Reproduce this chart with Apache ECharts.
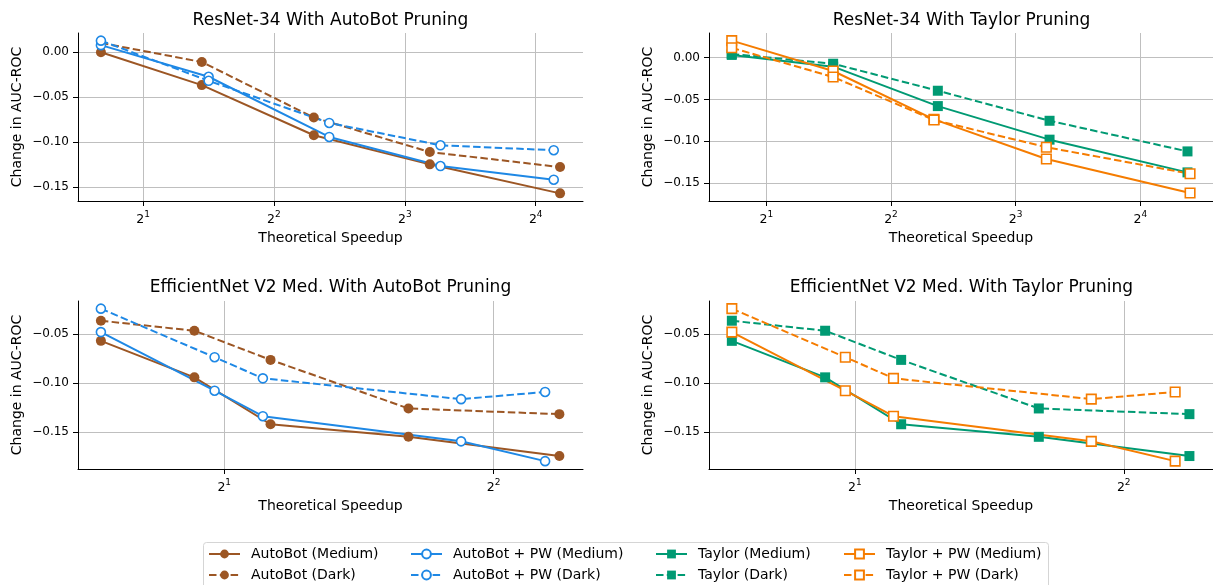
<!DOCTYPE html>
<html>
<head>
<meta charset="utf-8">
<script src="https://cdn.jsdelivr.net/npm/echarts@6/dist/echarts.min.js"></script>
<style>html,body{margin:0;padding:0;background:#fff}#c{width:1213px;height:585px}</style>
</head>
<body>
<div id="c"></div>
<script>
// ---------- data ----------
const chartTitles = [
  'ResNet-34 With AutoBot Pruning',
  'ResNet-34 With Taylor Pruning',
  'EfficientNet V2 Med. With AutoBot Pruning',
  'EfficientNet V2 Med. With Taylor Pruning'
];
const seriesNames = [
  'AutoBot (Medium)', 'AutoBot (Dark)',
  'AutoBot + PW (Medium)', 'AutoBot + PW (Dark)',
  'Taylor (Medium)', 'Taylor (Dark)',
  'Taylor + PW (Medium)', 'Taylor + PW (Dark)'
];
const xAxisName = 'Theoretical Speedup';
const yAxisName = 'Change in AUC-ROC';

// ResNet-34, AutoBot pruning
const resAutoBotSpeedup   = [1.60, 2.73, 4.94, 9.13, 18.2];
const resAutoBotMedium    = [0.000, -0.0365, -0.0923, -0.1247, -0.157];
const resAutoBotDark      = [0.0105, -0.0108, -0.0726, -0.111, -0.1277];
const resAutoBotPWSpeedup = [1.60, 2.83, 5.36, 9.66, 17.6];
const resAutoBotPWMedium  = [0.008, -0.0272, -0.0942, -0.1266, -0.1418];
const resAutoBotPWDark    = [0.013, -0.0317, -0.0786, -0.1035, -0.109];

// ResNet-34, Taylor pruning
const resTaylorSpeedup    = [1.65, 2.90, 5.19, 9.66, 20.8];
const resTaylorMedium     = [0.003, -0.011, -0.058, -0.098, -0.137];
const resTaylorDark       = [0.004, -0.0075, -0.0397, -0.0755, -0.112];
const resTaylorPWSpeedup  = [1.65, 2.90, 5.08, 9.49, 21.1];
const resTaylorPWMedium   = [0.020, -0.0162, -0.0738, -0.121, -0.1615];
const resTaylorPWDark     = [0.0115, -0.0234, -0.0746, -0.107, -0.1386];

// EfficientNet V2 Med., AutoBot pruning
const effAutoBotSpeedup   = [1.456, 1.852, 2.253, 3.213, 4.738];
const effAutoBotMedium    = [-0.0572, -0.0944, -0.1422, -0.155, -0.1746];
const effAutoBotDark      = [-0.0367, -0.0469, -0.0766, -0.1261, -0.1319];
const effAutoBotPWSpeedup = [1.456, 1.951, 2.209, 3.679, 4.567];
const effAutoBotPWMedium  = [-0.0483, -0.108, -0.134, -0.1596, -0.1798];
const effAutoBotPWDark    = [-0.0244, -0.0739, -0.0954, -0.1166, -0.1093];

// EfficientNet V2 Med., Taylor pruning
const effTaylorSpeedup    = [1.456, 1.852, 2.253, 3.213, 4.738];
const effTaylorMedium     = [-0.0572, -0.0944, -0.1422, -0.155, -0.1746];
const effTaylorDark       = [-0.0367, -0.0469, -0.0766, -0.1261, -0.1319];
const effTaylorPWSpeedup  = [1.456, 1.951, 2.209, 3.679, 4.567];
const effTaylorPWMedium   = [-0.0483, -0.108, -0.134, -0.1596, -0.1798];
const effTaylorPWDark     = [-0.0244, -0.0739, -0.0954, -0.1166, -0.1093];

// tick values
const xTicksResNet = [2, 4, 8, 16];
const xTicksEff    = [2, 4];
const yTicksResNet = [-0.15, -0.10, -0.05, 0.00];
const yTicksEff    = [-0.15, -0.10, -0.05];

// ---------- styling / layout ----------
const FONT = 'DejaVu Sans';
const COL = { ab: '#9c5624', pw: '#1e88e5', t: '#009a73', tpw: '#f57c00' };
const DASH = [7.5, 3.3];

const grids = [
  { left: 78,  top: 33,  width: 505, height: 168 },
  { left: 709, top: 33,  width: 505, height: 168 },
  { left: 78,  top: 301, width: 505, height: 168 },
  { left: 709, top: 301, width: 505, height: 168 }
];
const xLimits = [[1.417, 20.55], [1.454, 23.97], [1.3727, 5.035], [1.3727, 5.035]];
const yLimits = [[-0.1655, 0.0215], [-0.1711, 0.0291], [-0.1878, -0.0166], [-0.1878, -0.0166]];
const xTicks = [xTicksResNet, xTicksResNet, xTicksEff, xTicksEff];
const yTicks = [yTicksResNet, yTicksResNet, yTicksEff, yTicksEff];

const axisLine = { show: true, onZero: false, lineStyle: { color: '#000', width: 1 } };
const gridLine = { show: true, lineStyle: { color: '#bfbfbf', width: 1 } };

const xAxes = grids.map((g, i) => ({
  type: 'log', logBase: 2, gridIndex: i,
  min: xLimits[i][0], max: xLimits[i][1],
  name: xAxisName, nameLocation: 'middle', nameGap: 30,
  nameTextStyle: { fontFamily: FONT, fontSize: 14, color: '#000' },
  axisLine: axisLine,
  axisTick: { show: true, inside: false, length: 5, lineStyle: { color: '#000', width: 1 }, customValues: xTicks[i] },
  axisLabel: {
    customValues: xTicks[i], margin: 9,
    formatter: v => '{b|2}{s|' + Math.round(Math.log2(v)) + '}',
    rich: {
      b: { fontFamily: FONT, fontSize: 12.5, color: '#000', lineHeight: 16, verticalAlign: 'bottom' },
      s: { fontFamily: FONT, fontSize: 9, color: '#000', lineHeight: 10, verticalAlign: 'top' }
    }
  },
  splitLine: gridLine,
  minorTick: { show: false }, minorSplitLine: { show: false }
}));

const yAxes = grids.map((g, i) => ({
  type: 'value', gridIndex: i,
  min: yLimits[i][0], max: yLimits[i][1],
  name: yAxisName, nameLocation: 'middle', nameGap: 54,
  nameTextStyle: { fontFamily: FONT, fontSize: 14, color: '#000' },
  axisLine: axisLine,
  axisTick: { show: true, inside: false, length: 5, lineStyle: { color: '#000', width: 1 }, customValues: yTicks[i] },
  axisLabel: {
    customValues: yTicks[i], margin: 9,
    fontFamily: FONT, fontSize: 12, color: '#000',
    formatter: v => (v < -1e-9 ? '\u2212' : '') + Math.abs(v).toFixed(2)
  },
  splitLine: gridLine
}));

function mk(name, xs, ys, gi, color, symbol, hollow, dark) {
  const sq = symbol === 'rect';
  return {
    type: 'line', name: name, xAxisIndex: gi, yAxisIndex: gi,
    data: xs.map((x, k) => [x, ys[k]]),
    color: color,
    symbol: symbol, symbolSize: hollow ? (sq ? 9.5 : 9) : 10,
    showAllSymbol: true,
    lineStyle: { color: color, width: 2, type: dark ? DASH : 'solid' },
    itemStyle: hollow ? { color: '#fff', borderColor: color, borderWidth: 1.6 }
                      : { color: color, borderColor: color, borderWidth: 0 },
    emphasis: { disabled: true },
    z: 2
  };
}

const series = [
  mk(seriesNames[0], resAutoBotSpeedup,   resAutoBotMedium,   0, COL.ab, 'circle', false, false),
  mk(seriesNames[1], resAutoBotSpeedup,   resAutoBotDark,     0, COL.ab, 'circle', false, true),
  mk(seriesNames[2], resAutoBotPWSpeedup, resAutoBotPWMedium, 0, COL.pw, 'circle', true,  false),
  mk(seriesNames[3], resAutoBotPWSpeedup, resAutoBotPWDark,   0, COL.pw, 'circle', true,  true),

  mk(seriesNames[4], resTaylorSpeedup,    resTaylorMedium,    1, COL.t,   'rect', false, false),
  mk(seriesNames[5], resTaylorSpeedup,    resTaylorDark,      1, COL.t,   'rect', false, true),
  mk(seriesNames[6], resTaylorPWSpeedup,  resTaylorPWMedium,  1, COL.tpw, 'rect', true,  false),
  mk(seriesNames[7], resTaylorPWSpeedup,  resTaylorPWDark,    1, COL.tpw, 'rect', true,  true),

  mk(seriesNames[0], effAutoBotSpeedup,   effAutoBotMedium,   2, COL.ab, 'circle', false, false),
  mk(seriesNames[1], effAutoBotSpeedup,   effAutoBotDark,     2, COL.ab, 'circle', false, true),
  mk(seriesNames[2], effAutoBotPWSpeedup, effAutoBotPWMedium, 2, COL.pw, 'circle', true,  false),
  mk(seriesNames[3], effAutoBotPWSpeedup, effAutoBotPWDark,   2, COL.pw, 'circle', true,  true),

  mk(seriesNames[4], effTaylorSpeedup,    effTaylorMedium,    3, COL.t,   'rect', false, false),
  mk(seriesNames[5], effTaylorSpeedup,    effTaylorDark,      3, COL.t,   'rect', false, true),
  mk(seriesNames[6], effTaylorPWSpeedup,  effTaylorPWMedium,  3, COL.tpw, 'rect', true,  false),
  mk(seriesNames[7], effTaylorPWSpeedup,  effTaylorPWDark,    3, COL.tpw, 'rect', true,  true)
];

const titleCenters = [[330.5, 12], [961.5, 12], [330.5, 279.5], [961.5, 279.5]];
const titles = chartTitles.map((t, i) => ({
  text: t, left: titleCenters[i][0], top: titleCenters[i][1], textAlign: 'center', padding: 0,
  textStyle: { fontFamily: FONT, fontSize: 17, fontWeight: 'normal', color: '#000' }
}));

const legendCols = [208, 410, 655, 843];
const legends = legendCols.map((x, c) => ({
  data: [seriesNames[2 * c], seriesNames[2 * c + 1]],
  orient: 'vertical', left: x, top: 547, padding: 0,
  itemWidth: 31, itemHeight: 11, itemGap: 7,
  selectedMode: false,
  textStyle: { fontFamily: FONT, fontSize: 14, color: '#000', lineHeight: 14, padding: [0, 0, 0, 6] }
}));

const chart = echarts.init(document.getElementById('c'), null, { renderer: 'canvas' });
chart.setOption({
  animation: false,
  backgroundColor: '#fff',
  title: titles,
  grid: grids,
  xAxis: xAxes,
  yAxis: yAxes,
  legend: legends,
  graphic: [{
    type: 'rect', silent: true, z: -10,
    shape: { x: 203.5, y: 542.5, width: 845, height: 50, r: 3 },
    style: { fill: '#fff', stroke: '#d5d5d5', lineWidth: 1 }
  }],
  series: series
});
</script>
</body>
</html>
